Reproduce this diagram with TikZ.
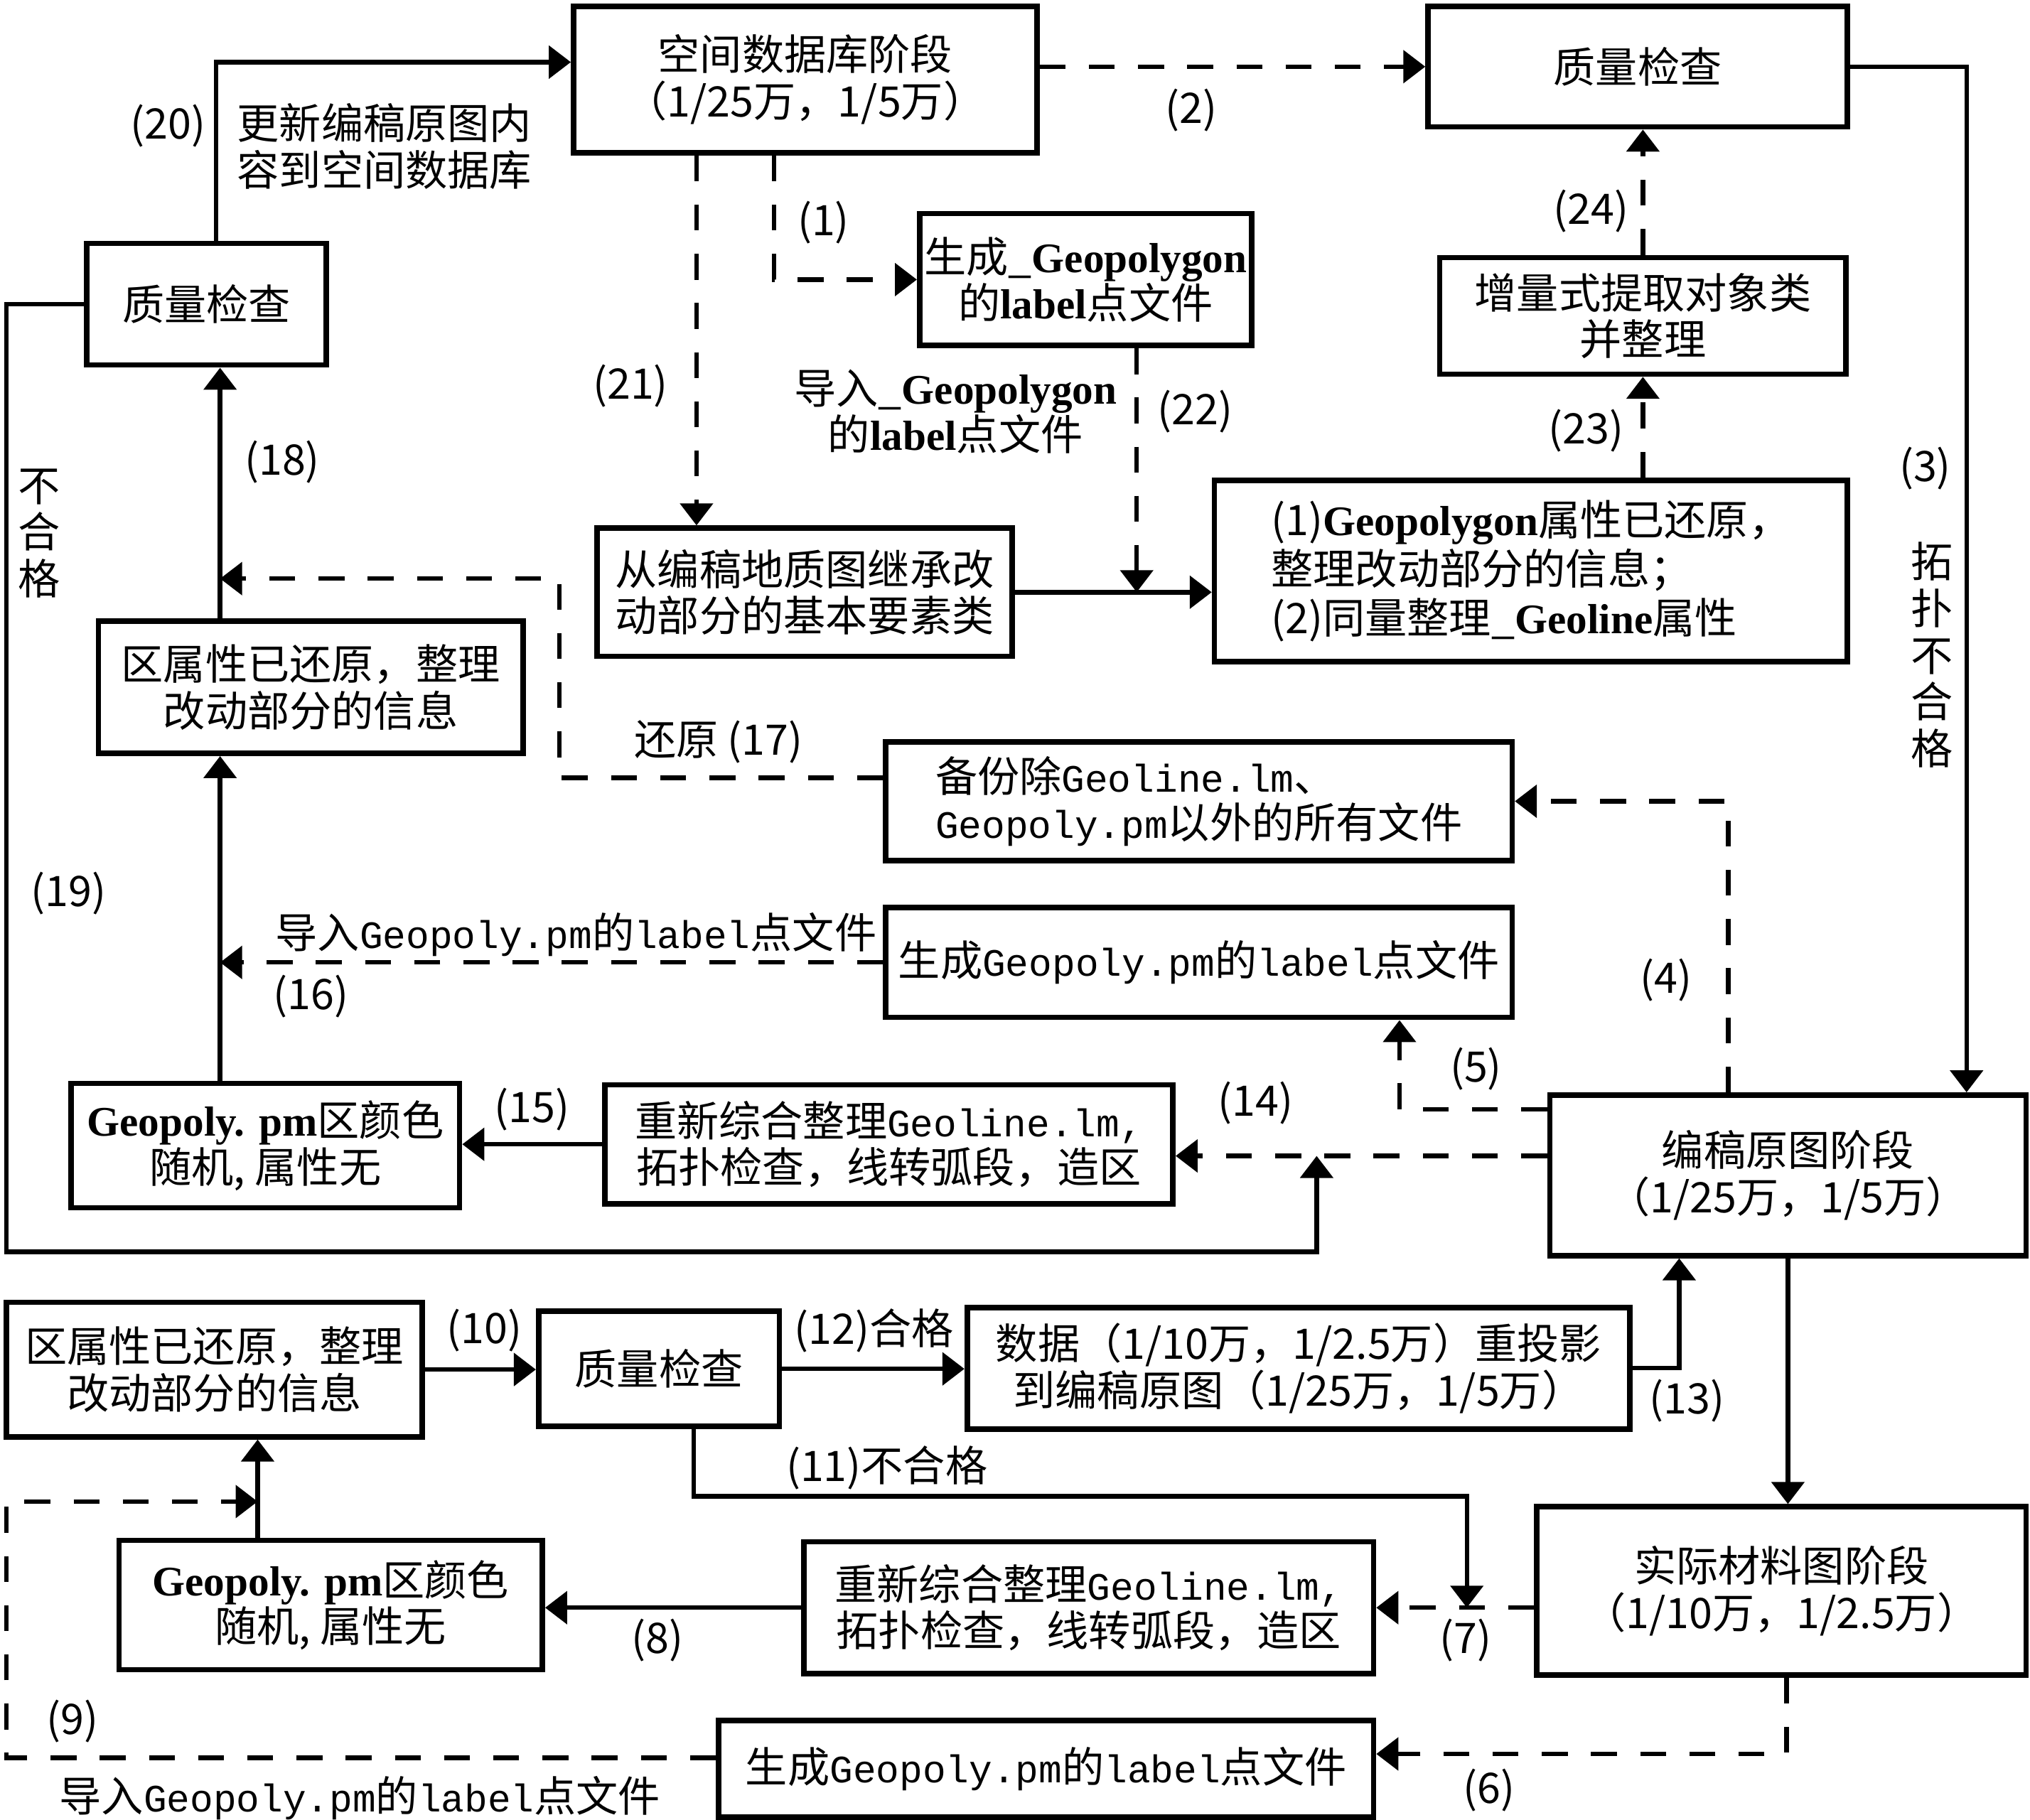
\documentclass[tikz,border=0pt]{standalone}
\usepackage{fontspec}
\setmainfont{Noto Sans CJK SC}
\newfontfamily\monofont{Liberation Mono}[Scale=0.92]
\newfontfamily\serfont{Liberation Serif}
\usepackage{tikz}
\usetikzlibrary{positioning, calc, arrows.meta}

\newcommand{\diagfont}{\fontsize{18.5}{20.5}\selectfont}
\newcommand{\gm}[1]{{\monofont #1}}
\newcommand{\gs}[1]{{\serfont\bfseries #1}}

\tikzset{
  box/.style={draw, line width=2.4pt, align=center, inner sep=2pt, font=\diagfont},
  lbl/.style={inner sep=1pt, align=center, font=\diagfont},
  flow/.style={line width=2pt, -{Triangle[length=0.34cm, width=0.5cm]}},
  dflow/.style={flow, dash pattern=on 0.4cm off 0.36cm}
}

\begin{document}
\begin{tikzpicture}[x=0.02cm, y=-0.02cm]
\useasboundingbox (0,0) rectangle (1568,1406);

% stages and steps
\node[box, minimum width=7.16cm, minimum height=2.26cm] (db) at (622,61.5) {空间数据库阶段\\（1/25万，1/5万）};
\node[box, minimum width=6.48cm, minimum height=1.86cm] (qcTop) at (1265,51.5) {质量检查};
\node[box, minimum width=5.10cm, minimum height=2.04cm] (genGp) at (838.5,216) {生成\_\gs{Geopolygon}\\的\gs{label}点文件};
\node[box, minimum width=6.28cm, minimum height=1.80cm] (incr) at (1269,244) {增量式提取对象类\\并整理};
\node[box, minimum width=3.70cm, minimum height=1.88cm] (qcLeft) at (159.5,235) {质量检查};
\node[box, minimum width=6.42cm, minimum height=1.98cm] (inherit) at (621.5,457.5) {从编稿地质图继承改\\动部分的基本要素类};
\node[box, minimum width=9.78cm, minimum height=2.80cm, align=left] (restored) at (1182.5,441) {(1)\gs{Geopolygon}属性已还原，\\[1pt]整理改动部分的信息；\\[1pt](2)同量整理\_\gs{Geoline}属性};
\node[box, minimum width=6.56cm, minimum height=2.04cm] (attr1) at (240,531) {区属性已还原，整理\\改动部分的信息};
\node[box, minimum width=9.68cm, minimum height=1.84cm, align=left] (backup) at (926,619) {备份除\gm{Geoline.lm}、\\\gm{Geopoly.pm}以外的所有文件};
\node[box, minimum width=9.68cm, minimum height=1.70cm] (genPm1) at (926,743.5) {生成\gm{Geopoly.pm}的\gm{label}点文件};
\node[box, minimum width=6.00cm, minimum height=1.92cm] (color1) at (205,885) {\gs{Geopoly. pm}区颜色\\随机, 属性无};
\node[box, minimum width=8.78cm, minimum height=1.84cm] (regen1) at (686.5,884) {重新综合整理\gm{Geoline.lm,}\\拓扑检查，线转弧段，造区};
\node[box, minimum width=7.36cm, minimum height=2.48cm] (draft) at (1381,908) {编稿原图阶段\\（1/25万，1/5万）};
\node[box, minimum width=6.42cm, minimum height=2.08cm] (attr2) at (165.5,1058) {区属性已还原，整理\\改动部分的信息};
\node[box, minimum width=3.72cm, minimum height=1.78cm] (qc2) at (509,1057.5) {质量检查};
\node[box, minimum width=10.24cm, minimum height=1.88cm] (reproj) at (1003,1057) {数据（1/10万，1/2.5万）重投影\\到编稿原图（1/25万，1/5万）};
\node[box, minimum width=6.54cm, minimum height=2.00cm] (color2) at (255.5,1240) {\gs{Geopoly. pm}区颜色\\随机, 属性无};
\node[box, minimum width=8.80cm, minimum height=2.04cm] (regen2) at (841,1242) {重新综合整理\gm{Geoline.lm,}\\拓扑检查，线转弧段，造区};
\node[box, minimum width=7.56cm, minimum height=2.60cm] (actual) at (1376,1229) {实际材料图阶段\\（1/10万，1/2.5万）};
\node[box, minimum width=10.12cm, minimum height=1.50cm] (genPm2) at (808,1366.5) {生成\gm{Geopoly.pm}的\gm{label}点文件};

% bend points
\coordinate (k20) at (167,48);
\coordinate (k3) at (1519,48);
\coordinate (k1) at (598,216);
\coordinate (k21) at (538,300);
\coordinate (k22) at (878,457.5);
\coordinate (k18) at (170,300);
\coordinate (k17) at (432,447);
\coordinate (k17b) at (432,601);
\coordinate (k4) at (1335,619);
\coordinate (k5) at (1081,857);
\coordinate (k14) at (1017,893);
\coordinate (k19) at (5,967);
\coordinate (k13) at (1297,1057);
\coordinate (k11) at (536,1156);
\coordinate (k11b) at (1133,1242);
\coordinate (k9) at (199,1160);
\coordinate (k9b) at (5,1358);
\coordinate (k6) at (1380,1355);

% connectors
\draw[flow] (qcLeft.north -| k20) -- (k20) -- (db.west |- k20);
\draw[dflow] (db.east |- qcTop.west) -- (qcTop.west);
\draw[flow] (qcTop.east) -| (draft.north -| k3);
\draw[dflow] (db.south -| k1) |- (genGp.west);
\draw[dflow] (db.south -| k21) -- (inherit.north -| k21);
\draw[dflow] (genGp.south -| k22) -- (k22);
\draw[flow] (inherit.east) -- (restored.west |- inherit.east);
\draw[dflow] (restored.north -| incr.south) -- (incr.south);
\draw[dflow] (incr.north) -- (qcTop.south -| incr.north);
\draw[flow] (attr1.north -| k18) -- (qcLeft.south -| k18);
\draw[dflow] (backup.west |- k17b) -- (k17b) -- (k17) -- (k18 |- k17);
\draw[flow] (qcLeft.west) -| (k19) -| (k14);
\draw[dflow] (draft.north -| k4) |- (backup.east);
\draw[dflow] (draft.west |- k5) -| (genPm1.south -| k5);
\draw[dflow] (draft.west |- k14) -- (regen1.east |- k14);
\draw[dflow] (genPm1.west) -- (k18 |- genPm1.west);
\draw[flow] (color1.north -| k18) -- (attr1.south -| k18);
\draw[flow] (regen1.west) -- (color1.east |- regen1.west);
\draw[flow] (draft.south) -- (actual.north -| draft.south);
\draw[flow] (reproj.east) -| (draft.south -| k13);
\draw[flow] (attr2.east) -- (qc2.west |- attr2.east);
\draw[flow] (qc2.east) -- (reproj.west |- qc2.east);
\draw[flow] (qc2.south -| k11) -- (k11) -| (k11b);
\draw[dflow] (actual.west |- regen2.east) -- (regen2.east);
\draw[flow] (regen2.west) -- (color2.east |- regen2.west);
\draw[flow] (color2.north -| k9) -- (attr2.south -| k9);
\draw[dflow] (actual.south -| k6) |- (genPm2.east |- k6);
\draw[dflow] (genPm2.west |- k9b) -- (k9b) |- (k9);

% labels
\node[lbl] (l20) at (130,97) {(20)};
\node[lbl, align=left] (t20) at (297,113) {更新编稿原图内\\容到空间数据库};
\node[lbl] (l2) at (920,85) {(2)};
\node[lbl] (l1) at (636,172) {(1)};
\node[lbl] (l21) at (487,298) {(21)};
\node[lbl] (t22) at (738,318) {导入\_\gs{Geopolygon}\\的\gs{label}点文件};
\node[lbl] (l22) at (923,318) {(22)};
\node[lbl] (l24) at (1229,163) {(24)};
\node[lbl] (l23) at (1225,333) {(23)};
\node[lbl] (l3) at (1487,362) {(3)};
\node[lbl] (t3) at (1492,506) {拓\\扑\\不\\合\\格};
\node[lbl] (l18) at (218,357) {(18)};
\node[lbl] (t19) at (30,412) {不\\合\\格};
\node[lbl] (l17) at (555,573) {还原 (17)};
\node[lbl] (l19) at (53,690) {(19)};
\node[lbl] (t16) at (445,722) {导入\gm{Geopoly.pm}的\gm{label}点文件};
\node[lbl] (l16) at (240,770) {(16)};
\node[lbl] (l4) at (1287,757) {(4)};
\node[lbl] (l5) at (1140,826) {(5)};
\node[lbl] (l14) at (970,852) {(14)};
\node[lbl] (l15) at (411,857) {(15)};
\node[lbl] (l10) at (374,1028) {(10)};
\node[lbl] (l12) at (675,1028) {(12)合格};
\node[lbl] (l13) at (1303,1082) {(13)};
\node[lbl] (l11) at (685,1134) {(11)不合格};
\node[lbl] (l7) at (1132,1267) {(7)};
\node[lbl] (l8) at (508,1267) {(8)};
\node[lbl] (l9) at (56,1330) {(9)};
\node[lbl] (l6) at (1150,1383) {(6)};
\node[lbl] (t9) at (278,1389) {导入\gm{Geopoly.pm}的\gm{label}点文件};
\end{tikzpicture}
\end{document}
